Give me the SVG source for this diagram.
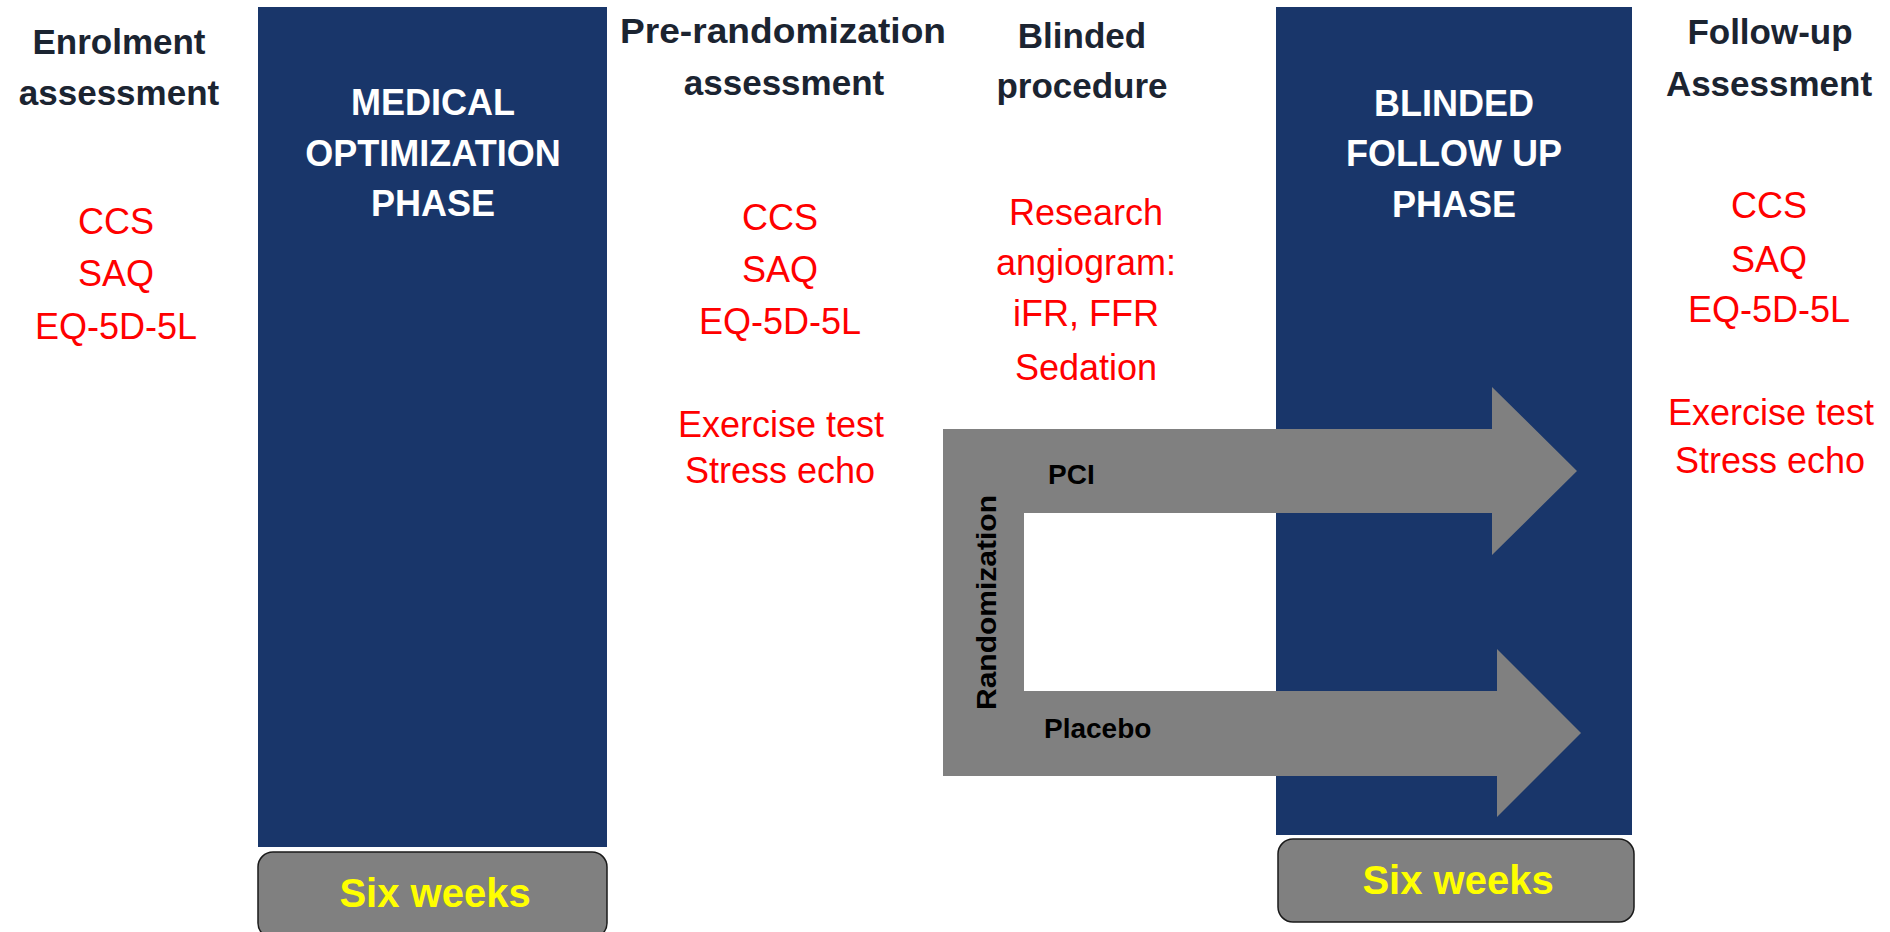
<svg xmlns="http://www.w3.org/2000/svg" width="1890" height="932" viewBox="0 0 1890 932">
<style>
.hd{font-family:"Liberation Sans",Arial,sans-serif;font-weight:bold;font-size:35px;fill:#1b2431;text-anchor:middle}
.ph{font-family:"Liberation Sans",Arial,sans-serif;font-weight:bold;font-size:36px;fill:#ffffff;text-anchor:middle}
.rd{font-family:"Liberation Sans",Arial,sans-serif;font-size:36px;fill:#ff0000;text-anchor:middle}
.lb{font-family:"Liberation Sans",Arial,sans-serif;font-weight:bold;font-size:28px;fill:#000000}
.wk{font-family:"Liberation Sans",Arial,sans-serif;font-weight:bold;font-size:40px;fill:#ffff00;text-anchor:middle}
.blue{fill:#19366a}
.gray{fill:#808080}
.box{fill:#808080;stroke:#1a1a1a;stroke-width:1.5}
</style>
<rect width="1890" height="932" fill="#ffffff"/>

<g id="enrolment">
<text class="hd" x="119" y="54">Enrolment</text>
<text class="hd" x="119" y="105">assessment</text>
<text class="rd" x="116" y="234">CCS</text>
<text class="rd" x="116" y="286">SAQ</text>
<text class="rd" x="116" y="339">EQ-5D-5L</text>
</g>

<g id="medical-phase">
<rect class="blue" x="258" y="7" width="349" height="840"/>
<text class="ph" x="433" y="115">MEDICAL</text>
<text class="ph" x="433" y="166">OPTIMIZATION</text>
<text class="ph" x="433" y="216">PHASE</text>
</g>

<g id="six-weeks-1">
<rect class="box" x="258" y="852" width="349" height="86" rx="15"/>
<text class="wk" x="435" y="907">Six weeks</text>
</g>

<g id="pre-randomization">
<text class="hd" x="783" y="43" textLength="326" lengthAdjust="spacingAndGlyphs">Pre-randomization</text>
<text class="hd" x="784" y="95">assessment</text>
<text class="rd" x="780" y="230">CCS</text>
<text class="rd" x="780" y="282">SAQ</text>
<text class="rd" x="780" y="334">EQ-5D-5L</text>
<text class="rd" x="781" y="437">Exercise test</text>
<text class="rd" x="780" y="483">Stress echo</text>
</g>

<g id="blinded-procedure">
<text class="hd" x="1082" y="48">Blinded</text>
<text class="hd" x="1082" y="98">procedure</text>
<text class="rd" x="1086" y="225">Research</text>
<text class="rd" x="1086" y="275">angiogram:</text>
<text class="rd" x="1086" y="326">iFR, FFR</text>
<text class="rd" x="1086" y="380">Sedation</text>
</g>

<g id="blinded-phase">
<rect class="blue" x="1276" y="7" width="356" height="828"/>
<text class="ph" x="1454" y="116">BLINDED</text>
<text class="ph" x="1454" y="166">FOLLOW UP</text>
<text class="ph" x="1454" y="217">PHASE</text>
</g>

<g id="six-weeks-2">
<rect class="box" x="1278" y="839" width="356" height="83" rx="15"/>
<text class="wk" x="1458" y="894">Six weeks</text>
</g>

<g id="follow-up">
<text class="hd" x="1770" y="44">Follow-up</text>
<text class="hd" x="1769" y="96">Assessment</text>
<text class="rd" x="1769" y="218">CCS</text>
<text class="rd" x="1769" y="272">SAQ</text>
<text class="rd" x="1769" y="322">EQ-5D-5L</text>
<text class="rd" x="1771" y="425">Exercise test</text>
<text class="rd" x="1770" y="473">Stress echo</text>
</g>

<g id="connectors">
<rect class="gray" x="943" y="429" width="81" height="347"/>
<polygon id="arrow-pci" class="gray" points="1024,429 1492,429 1492,387 1577,471 1492,555 1492,513 1024,513"/>
<polygon id="arrow-placebo" class="gray" points="1024,691 1497,691 1497,649 1581,733 1497,817 1497,776 1024,776"/>
<text class="lb" x="1048" y="484">PCI</text>
<text class="lb" x="1044" y="738">Placebo</text>
<text class="lb" transform="translate(996,602.5) rotate(-90)" text-anchor="middle" font-size="30" textLength="215" lengthAdjust="spacingAndGlyphs">Randomization</text>
</g>
</svg>
